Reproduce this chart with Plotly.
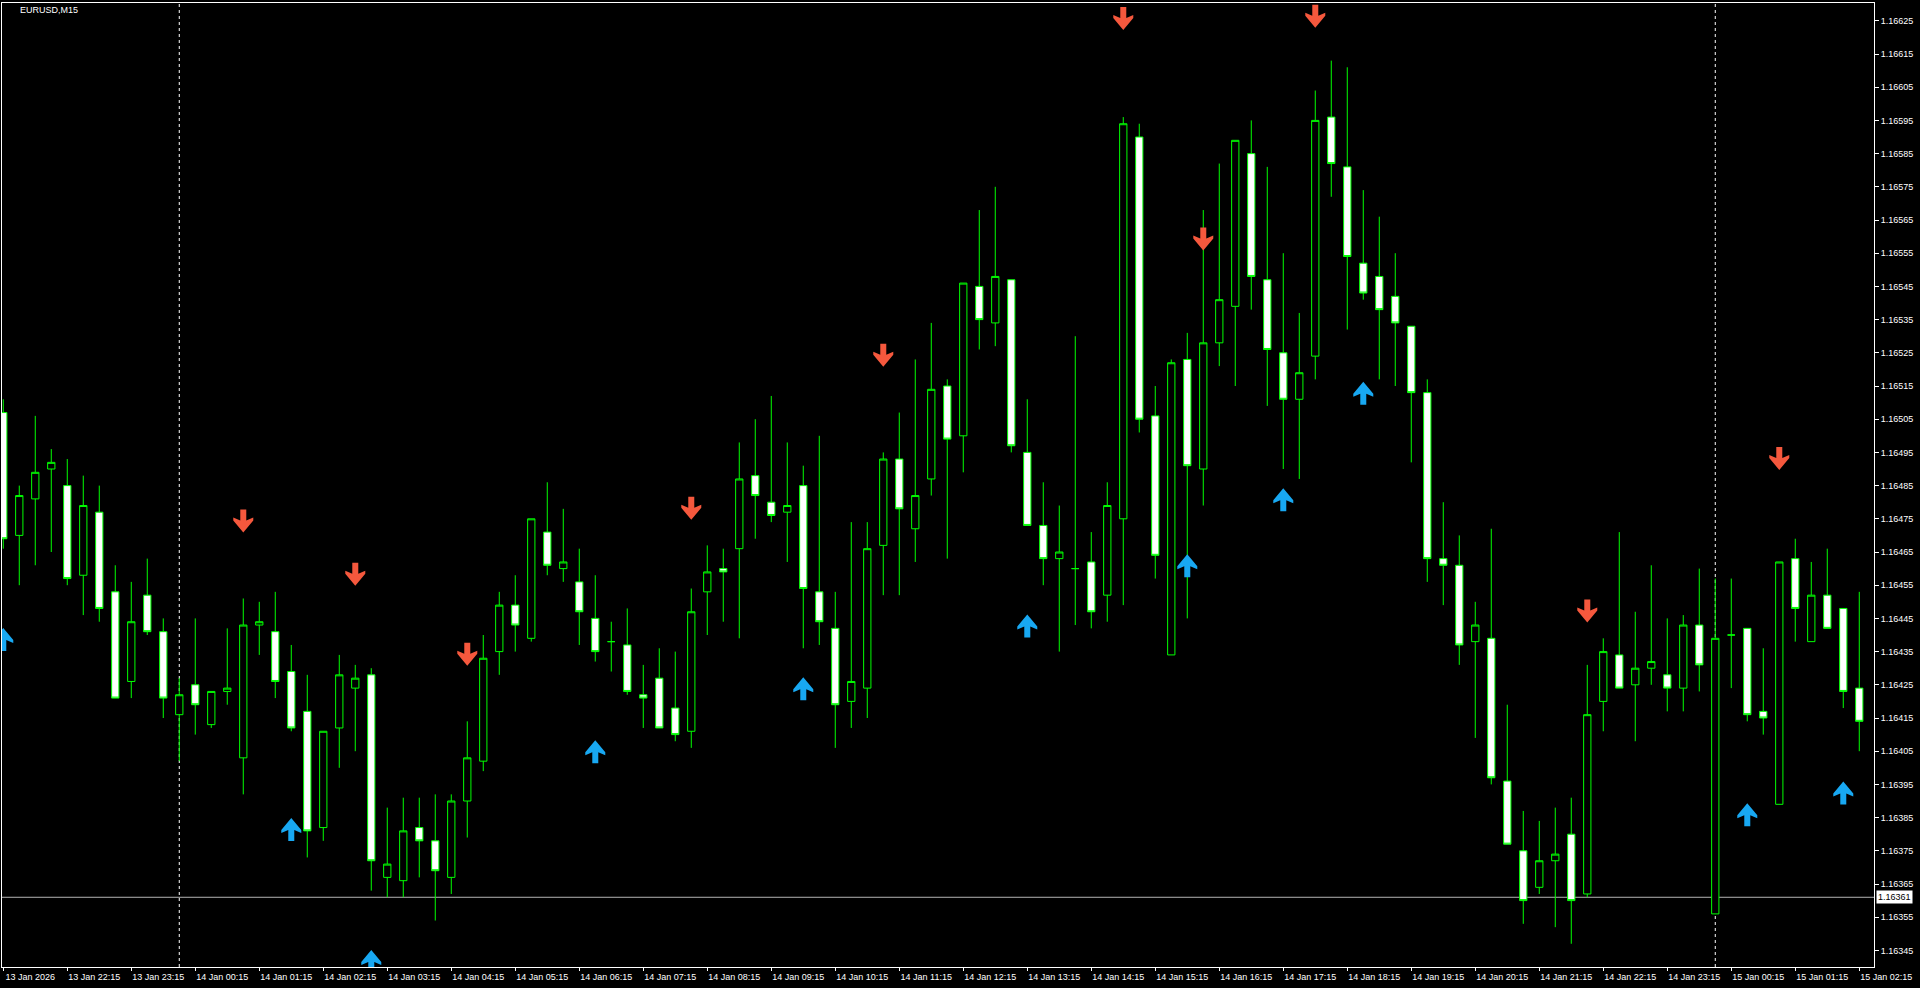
import plotly.graph_objects as go

# ---------------- data (EURUSD M15, bar index 0 = 13 Jan 21:15) ----------------
opens = [1.16507, 1.16470, 1.16481, 1.16490, 1.16485, 1.16458, 1.16477, 1.16453, 1.16426, 1.16452,
         1.16441, 1.16416, 1.16425, 1.16413, 1.16423, 1.16403, 1.16443, 1.16441, 1.16429, 1.16417,
         1.16382, 1.16412, 1.16424, 1.16428, 1.16367, 1.16366, 1.16382, 1.16378, 1.16367, 1.16390,
         1.16402, 1.16435, 1.16449, 1.16439, 1.16471, 1.16460, 1.16456, 1.16445, 1.16438, 1.16437,
         1.16422, 1.16427, 1.16418, 1.16411, 1.16453, 1.16460, 1.16466, 1.16488, 1.16480, 1.16477,
         1.16485, 1.16453, 1.16442, 1.16420, 1.16424, 1.16467, 1.16493, 1.16472, 1.16487, 1.16515,
         1.16500, 1.16545, 1.16534, 1.16547, 1.16495, 1.16473, 1.16463, 1.16460, 1.16462, 1.16452,
         1.16475, 1.16590, 1.16506, 1.16434, 1.16523, 1.16490, 1.16528, 1.16539, 1.16585, 1.16547,
         1.16525, 1.16511, 1.16524, 1.16596, 1.16581, 1.16552, 1.16548, 1.16542, 1.16533, 1.16513,
         1.16463, 1.16461, 1.16438, 1.16439, 1.16396, 1.16375, 1.16364, 1.16372, 1.16380, 1.16362,
         1.16420, 1.16434, 1.16425, 1.16430, 1.16428, 1.16424, 1.16443, 1.16356, 1.16440, 1.16442,
         1.16417, 1.16389, 1.16463, 1.16438, 1.16452, 1.16448, 1.16424]
highs = [1.16511, 1.16485, 1.16506, 1.16496, 1.16493, 1.16488, 1.16485, 1.16461, 1.16456, 1.16463,
         1.16445, 1.16427, 1.16445, 1.16423, 1.16442, 1.16451, 1.16450, 1.16453, 1.16437, 1.16428,
         1.16411, 1.16434, 1.16431, 1.16430, 1.16388, 1.16391, 1.16391, 1.16392, 1.16392, 1.16414,
         1.16440, 1.16453, 1.16458, 1.16475, 1.16486, 1.16478, 1.16466, 1.16458, 1.16444, 1.16448,
         1.16431, 1.16436, 1.16435, 1.16454, 1.16467, 1.16466, 1.16498, 1.16505, 1.16512, 1.16498,
         1.16491, 1.16500, 1.16453, 1.16474, 1.16474, 1.16495, 1.16507, 1.16523, 1.16534, 1.16517,
         1.16546, 1.16568, 1.16575, 1.16547, 1.16511, 1.16486, 1.16479, 1.16530, 1.16471, 1.16486,
         1.16596, 1.16594, 1.16515, 1.16523, 1.16531, 1.16568, 1.16582, 1.16589, 1.16595, 1.16581,
         1.16555, 1.16537, 1.16604, 1.16613, 1.16611, 1.16574, 1.16566, 1.16555, 1.16533, 1.16517,
         1.16480, 1.16470, 1.16450, 1.16472, 1.16419, 1.16387, 1.16384, 1.16388, 1.16391, 1.16431,
         1.16439, 1.16471, 1.16447, 1.16461, 1.16445, 1.16446, 1.16460, 1.16457, 1.16457, 1.16442,
         1.16436, 1.16462, 1.16469, 1.16462, 1.16466, 1.16448, 1.16453]
lows = [1.16466, 1.16455, 1.16461, 1.16465, 1.16455, 1.16446, 1.16444, 1.16421, 1.16421, 1.16440,
        1.16415, 1.16402, 1.16410, 1.16412, 1.16419, 1.16392, 1.16434, 1.16421, 1.16411, 1.16373,
        1.16378, 1.16400, 1.16405, 1.16363, 1.16361, 1.16361, 1.16367, 1.16354, 1.16362, 1.16379,
        1.16399, 1.16428, 1.16435, 1.16438, 1.16458, 1.16456, 1.16437, 1.16432, 1.16429, 1.16422,
        1.16412, 1.16412, 1.16408, 1.16406, 1.16440, 1.16444, 1.16439, 1.16469, 1.16474, 1.16462,
        1.16436, 1.16437, 1.16406, 1.16412, 1.16415, 1.16452, 1.16452, 1.16462, 1.16482, 1.16463,
        1.16489, 1.16526, 1.16527, 1.16495, 1.16473, 1.16455, 1.16435, 1.16443, 1.16442, 1.16444,
        1.16449, 1.16501, 1.16457, 1.16434, 1.16445, 1.16479, 1.16521, 1.16515, 1.16538, 1.16509,
        1.16490, 1.16487, 1.16517, 1.16572, 1.16532, 1.16541, 1.16517, 1.16515, 1.16492, 1.16456,
        1.16449, 1.16431, 1.16409, 1.16395, 1.16377, 1.16353, 1.16362, 1.16352, 1.16347, 1.16361,
        1.16411, 1.16424, 1.16408, 1.16425, 1.16417, 1.16417, 1.16423, 1.16356, 1.16424, 1.16414,
        1.16410, 1.16389, 1.16438, 1.16438, 1.16442, 1.16418, 1.16405]
closes = [1.16469, 1.16482, 1.16489, 1.16492, 1.16457, 1.16479, 1.16448, 1.16421, 1.16444, 1.16441,
          1.16421, 1.16422, 1.16419, 1.16423, 1.16424, 1.16443, 1.16444, 1.16426, 1.16412, 1.16381,
          1.16411, 1.16428, 1.16427, 1.16372, 1.16371, 1.16381, 1.16378, 1.16369, 1.16390, 1.16403,
          1.16433, 1.16449, 1.16443, 1.16475, 1.16461, 1.16462, 1.16447, 1.16435, 1.16438, 1.16423,
          1.16421, 1.16412, 1.16410, 1.16447, 1.16459, 1.16459, 1.16487, 1.16482, 1.16476, 1.16479,
          1.16454, 1.16444, 1.16419, 1.16426, 1.16466, 1.16493, 1.16478, 1.16482, 1.16514, 1.16499,
          1.16546, 1.16535, 1.16548, 1.16497, 1.16473, 1.16463, 1.16465, 1.16460, 1.16447, 1.16479,
          1.16594, 1.16505, 1.16464, 1.16522, 1.16491, 1.16528, 1.16541, 1.16589, 1.16548, 1.16526,
          1.16511, 1.16519, 1.16595, 1.16582, 1.16554, 1.16543, 1.16538, 1.16534, 1.16513, 1.16463,
          1.16461, 1.16437, 1.16443, 1.16397, 1.16377, 1.16360, 1.16372, 1.16374, 1.16360, 1.16416,
          1.16435, 1.16424, 1.16430, 1.16432, 1.16424, 1.16443, 1.16431, 1.16439, 1.16440, 1.16416,
          1.16415, 1.16462, 1.16448, 1.16452, 1.16442, 1.16423, 1.16414]

# signal arrows: bar index and price of the arrow tip
sell_bars = [15, 22, 29, 43, 55, 70, 75, 82, 99, 111]
sell_tips = [1.164709, 1.164548, 1.164307, 1.164747, 1.165208, 1.166222, 1.165558, 1.166229, 1.164438, 1.164897]
buy_bars = [0, 18, 23, 37, 50, 64, 74, 80, 85, 109, 115]
buy_tips = [1.164421, 1.163849, 1.163451, 1.164083, 1.164273, 1.164462, 1.164643, 1.164842, 1.165163, 1.163893, 1.163959]

time_tick_bars = list(range(0, 117, 4))
time_tick_labels = ["13 Jan 2026", "13 Jan 22:15", "13 Jan 23:15",
                    "14 Jan 00:15", "14 Jan 01:15", "14 Jan 02:15", "14 Jan 03:15", "14 Jan 04:15",
                    "14 Jan 05:15", "14 Jan 06:15", "14 Jan 07:15", "14 Jan 08:15", "14 Jan 09:15",
                    "14 Jan 10:15", "14 Jan 11:15", "14 Jan 12:15", "14 Jan 13:15", "14 Jan 14:15",
                    "14 Jan 15:15", "14 Jan 16:15", "14 Jan 17:15", "14 Jan 18:15", "14 Jan 19:15",
                    "14 Jan 20:15", "14 Jan 21:15", "14 Jan 22:15", "14 Jan 23:15",
                    "15 Jan 00:15", "15 Jan 01:15", "15 Jan 02:15"]
price_ticks = [round(1.16345 + 0.0001 * k, 5) for k in range(29)]
day_separator_bars = [11, 107]
last_price = 1.16361
symbol_label = "EURUSD,M15"

# ---------------- layout geometry ----------------
W, H = 1920, 988
ML, MR, MT, MB = 2, 46, 3, 21
PW, PH = W - ML - MR, H - MT - MB
x_range = [-0.08, -0.08 + PW / 16.0]
y_range = [1.163400, 1.1663036]
px_x = (x_range[1] - x_range[0]) / PW
px_y = (y_range[1] - y_range[0]) / PH

FONT = "Liberation Sans, Arial, sans-serif"
LIME = "#00FF00"

bars = list(range(len(opens)))
fig = go.Figure()
fig.add_trace(go.Candlestick(
    x=bars, open=opens, high=highs, low=lows, close=closes,
    increasing=dict(line=dict(color=LIME, width=1), fillcolor="#000000"),
    decreasing=dict(line=dict(color=LIME, width=1), fillcolor="#FFFFFF"),
    whiskerwidth=0, hoverinfo="skip", showlegend=False))

# arrow polygons (pixel offsets from tip; positive = away from tip)
arrow_shape = [(0, 0), (-10, 12), (-10, 15), (-3, 12), (-3, 23), (3, 23), (3, 12), (10, 15), (10, 12), (0, 0)]


def arrow_poly(bar_list, tip_list, direction):
    xs, ys = [], []
    for b, t in zip(bar_list, tip_list):
        for dx, dy in arrow_shape:
            xs.append(b + dx * px_x)
            ys.append(t + direction * dy * px_y)
        xs.append(None)
        ys.append(None)
    return xs, ys


sx, sy = arrow_poly(sell_bars, sell_tips, +1)
bx, by = arrow_poly(buy_bars, buy_tips, -1)
fig.add_trace(go.Scatter(x=sx, y=sy, mode="lines", fill="toself", fillcolor="#F5583D",
                         line=dict(width=0, color="#F5583D"), hoverinfo="skip", showlegend=False))
fig.add_trace(go.Scatter(x=bx, y=by, mode="lines", fill="toself", fillcolor="#18A8F2",
                         line=dict(width=0, color="#18A8F2"), hoverinfo="skip", showlegend=False))

shapes = []
for b in day_separator_bars:
    shapes.append(dict(type="line", xref="x", yref="paper", x0=b, x1=b, y0=0, y1=1,
                       line=dict(color="#FFFFFF", width=1, dash="3px,3px"), layer="below"))
shapes.append(dict(type="line", xref="paper", yref="y", x0=0, x1=1, y0=last_price, y1=last_price,
                   line=dict(color="#B4B4B4", width=1), layer="below"))

annotations = [
    dict(text=symbol_label, xref="paper", yref="paper", x=(18 - ML) / PW, y=1, xanchor="left",
         yanchor="top", showarrow=False, font=dict(family=FONT, size=9, color="#FFFFFF")),
    dict(text="%.5f" % last_price, xref="paper", yref="y", x=1, y=last_price, xanchor="left",
         yanchor="middle", xshift=2, showarrow=False, bgcolor="#FFFFFF", borderpad=1,
         font=dict(family=FONT, size=9, color="#000000")),
]

fig.update_layout(
    width=W, height=H, margin=dict(l=ML, r=MR, t=MT, b=MB, autoexpand=False),
    paper_bgcolor="#000000", plot_bgcolor="#000000",
    boxgap=0.35, shapes=shapes, annotations=annotations, hovermode=False,
    xaxis=dict(range=x_range, rangeslider=dict(visible=False), showgrid=False, zeroline=False,
               tickvals=time_tick_bars, ticktext=time_tick_labels, ticks="outside", ticklen=3,
               tickcolor="#FFFFFF", ticklabelshift=27, ticklabelstandoff=-2,
               tickfont=dict(family=FONT, size=9, color="#FFFFFF"),
               showline=True, mirror=True, linecolor="#FFFFFF", linewidth=1),
    yaxis=dict(range=y_range, side="right", showgrid=False, zeroline=False,
               tickvals=price_ticks, ticktext=["%.5f" % p for p in price_ticks],
               ticks="outside", ticklen=4, tickcolor="#FFFFFF",
               tickfont=dict(family=FONT, size=9, color="#FFFFFF"),
               showline=True, mirror=True, linecolor="#FFFFFF", linewidth=1),
)

fig.write_html("out.html")
